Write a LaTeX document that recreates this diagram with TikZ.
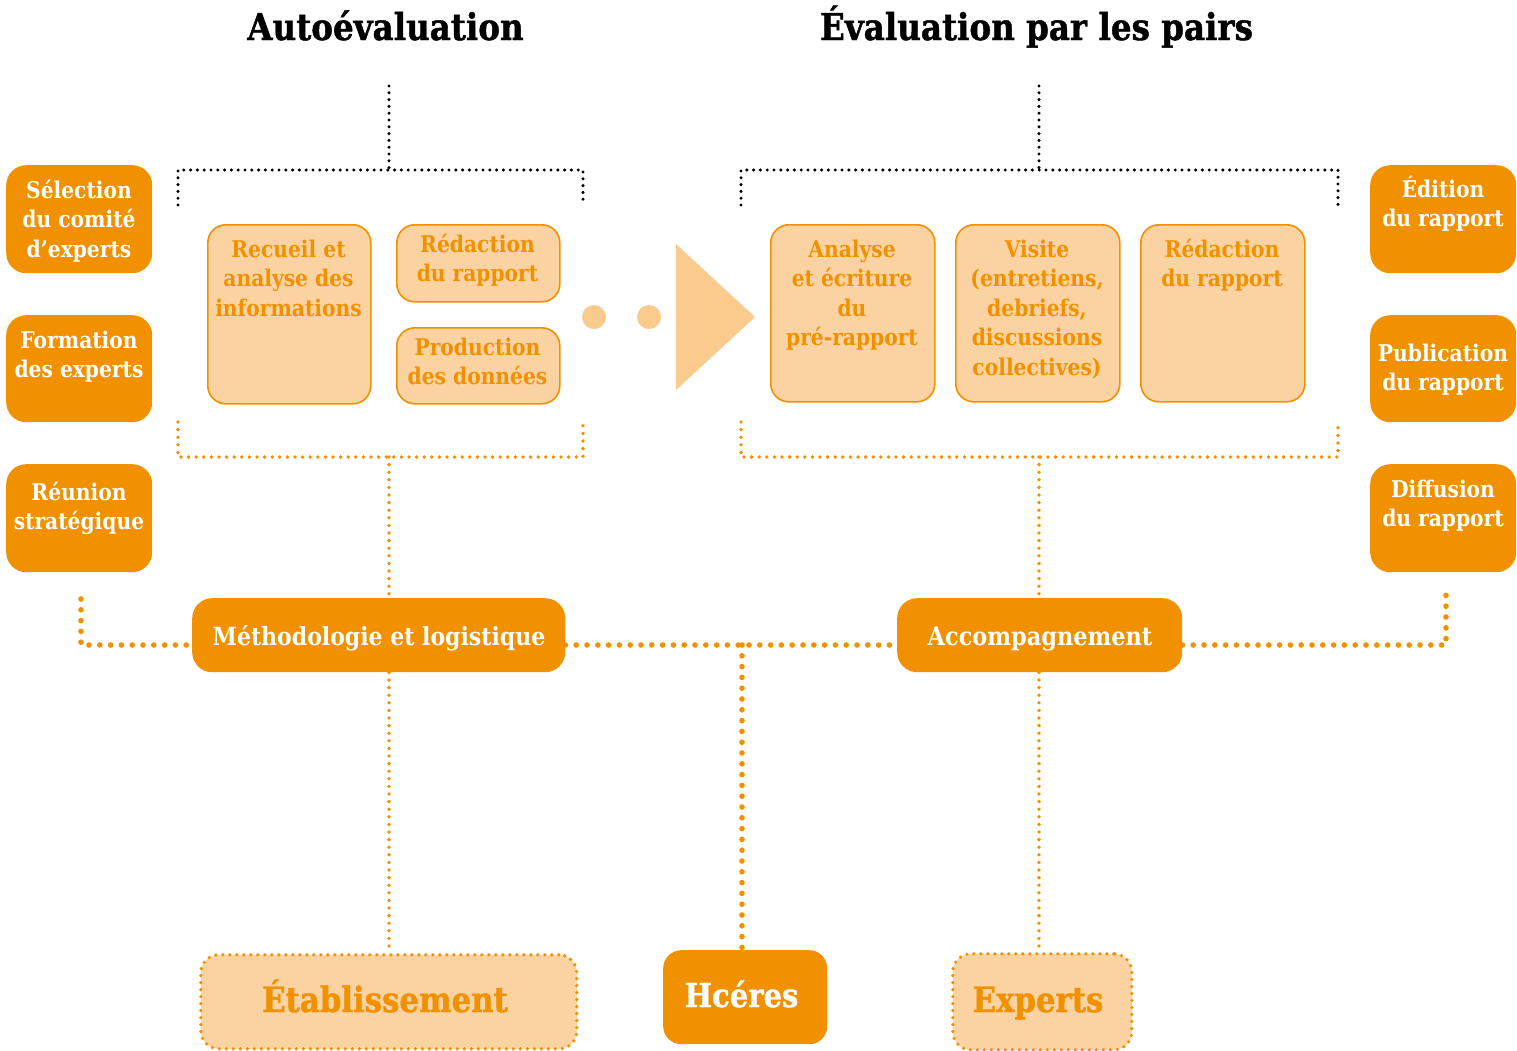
\documentclass[tikz,border=0pt]{standalone}
\usepackage{fontspec}
\setmainfont{DejaVu Serif}[FakeStretch=0.88]
\newfontfamily\heavyfont{DejaVu Serif}[FakeStretch=0.88, BoldFeatures={FakeBold=1.2}]
\definecolor{hcorange}{HTML}{F29100}
\definecolor{hclight}{HTML}{FBD3A2}
\definecolor{hctri}{HTML}{FBCB8D}
\newcommand\hcstrut{\rule{0pt}{22pt}}
\newcommand\boxfont{\bfseries\fontsize{23}{29.5}\selectfont}
\begin{document}
\begin{tikzpicture}[x=1pt,y=-1pt,
  darkbox/.style={fill=hcorange, draw=none, rounded corners=20pt, anchor=north west, inner sep=0pt},
  lightbox/.style={fill=hclight, draw=hcorange, line width=1.6pt, rounded corners=18pt, anchor=north west, inner sep=0pt},
  dotbox/.style={fill=hclight, draw=hcorange, line width=3.6pt, line cap=round, dash pattern=on 0pt off 7pt, rounded corners=18pt, anchor=north west, inner sep=0pt},
  boxtxt/.style={anchor=north, align=center, inner sep=0pt, font=\boxfont},
  wtxt/.style={boxtxt, text=white},
  otxt/.style={boxtxt, text=hcorange},
  title/.style={anchor=base, inner sep=0pt, font=\heavyfont\bfseries\fontsize{37}{42}\selectfont},
  blackdots/.style={draw=black, line width=3.4pt, line cap=round, dash pattern=on 0pt off 6.8pt},
  smalldots/.style={draw=hcorange, line width=3.8pt, line cap=round, dash pattern=on 0pt off 7.6pt},
  bigdots/.style={draw=hcorange, line width=5.6pt, line cap=round, dash pattern=on 0pt off 10.8pt},
]
\useasboundingbox (0,0) rectangle (1517,1050);

% titles
\node[title] (tauto) at (385.5,40) {Autoévaluation};
\node[title] (tpairs) at (1036.5,40) {Évaluation par les pairs};

% side boxes, left
\node[darkbox, minimum width=146pt, minimum height=108pt] (sel) at (6,165) {};
\node[darkbox, minimum width=146pt, minimum height=107pt] (form) at (6,315) {};
\node[darkbox, minimum width=146pt, minimum height=108pt] (reun) at (6,464) {};
\node[wtxt] (selT) at (79,176) {\hcstrut Sélection\\du comité\\d’experts};
\node[wtxt] (formT) at (79,326) {\hcstrut Formation\\des experts};
\node[wtxt] (reunT) at (79,478) {\hcstrut Réunion\\stratégique};

% side boxes, right
\node[darkbox, minimum width=146pt, minimum height=108pt] (edi) at (1370,165) {};
\node[darkbox, minimum width=146pt, minimum height=107pt] (pub) at (1370,315) {};
\node[darkbox, minimum width=146pt, minimum height=108pt] (dif) at (1370,464) {};
\node[wtxt] (ediT) at (1443,175) {\hcstrut Édition\\du rapport};
\node[wtxt] (pubT) at (1443,339) {\hcstrut Publication\\du rapport};
\node[wtxt] (difT) at (1443,475) {\hcstrut Diffusion\\du rapport};

% self-evaluation steps
\node[lightbox, minimum width=163pt, minimum height=179pt] (recu) at (207,224) {};
\node[lightbox, minimum width=163pt, minimum height=77pt] (redl) at (396,224) {};
\node[lightbox, minimum width=163pt, minimum height=76pt] (prod) at (396,327) {};
\node[otxt] (recuT) at (288.5,235) {\hcstrut Recueil et\\analyse des\\informations};
\node[otxt] (redlT) at (477.5,230) {\hcstrut Rédaction\\du rapport};
\node[otxt] (prodT) at (477.5,333) {\hcstrut Production\\des données};

% transition marks
\fill[hctri] (594,317) circle (12);
\fill[hctri] (649,317) circle (12);
\fill[hctri] (676,244) -- (755,317) -- (676,390) -- cycle;

% peer evaluation steps
\node[lightbox, minimum width=164pt, minimum height=177pt] (anal) at (770,224) {};
\node[lightbox, minimum width=164pt, minimum height=177pt] (visi) at (955,224) {};
\node[lightbox, minimum width=164pt, minimum height=177pt] (redr) at (1140,224) {};
\node[otxt] (analT) at (852,235) {\hcstrut Analyse\\et écriture\\du\\pré-rapport};
\node[otxt] (visiT) at (1037,235) {\hcstrut Visite\\(entretiens,\\debriefs,\\discussions\\collectives)};
\node[otxt] (redrT) at (1222,235) {\hcstrut Rédaction\\du rapport};

% support boxes
\node[darkbox, minimum width=373pt, minimum height=74pt] (meth) at (192,598) {};
\node[darkbox, minimum width=285pt, minimum height=74pt] (acc) at (897,598) {};
\node[anchor=base, inner sep=0pt, font=\bfseries\fontsize{25}{30}\selectfont, text=white] (methT) at (379,645) {Méthodologie et logistique};
\node[anchor=base, inner sep=0pt, font=\bfseries\fontsize{25.5}{30}\selectfont, text=white] (accT) at (1040,645) {Accompagnement};

% actors
\node[dotbox, minimum width=376pt, minimum height=94pt] (etab) at (199,953) {};
\node[darkbox, rounded corners=18pt, minimum width=164pt, minimum height=94pt] (hce) at (663,950) {};
\node[dotbox, minimum width=179pt, minimum height=96pt] (expe) at (951,952) {};
\node[anchor=base, inner sep=0pt, font=\heavyfont\bfseries\fontsize{35}{40}\selectfont, text=hcorange] (etabT) at (385,1012) {Établissement};
\node[anchor=base, inner sep=0pt, font=\heavyfont\bfseries\fontsize{33}{40}\selectfont, text=white] (hceT) at (741.5,1007) {Hcéres};
\node[anchor=base, inner sep=0pt, font=\heavyfont\bfseries\fontsize{35}{40}\selectfont, text=hcorange] (expeT) at (1038,1012) {Experts};

% black brackets under the titles
\coordinate (atop) at (389,86);
\coordinate (amid) at (389,170);
\coordinate (al) at (178,205);
\coordinate (ar) at (583,205);
\coordinate (ptop) at (1039,86);
\coordinate (pmid) at (1039,170);
\coordinate (pl) at (741,205);
\coordinate (pr) at (1338,205);
\draw[blackdots] (atop) -- (amid);
\draw[blackdots] (al) |- (amid) -| (ar);
\draw[blackdots] (ptop) -- (pmid);
\draw[blackdots] (pl) |- (pmid) -| (pr);

% orange brackets under the steps
\coordinate (bl) at (178,422);
\coordinate (br) at (583,422);
\coordinate (bmid) at (389,457);
\coordinate (ql) at (741,422);
\coordinate (qr) at (1338,422);
\coordinate (qmid) at (1039,457);
\draw[smalldots] (bl) |- (bmid) -| (br);
\draw[smalldots] (ql) |- (qmid) -| (qr);
\draw[smalldots] (bmid) -- (bmid |- meth.north);
\draw[smalldots] (qmid) -- (qmid |- acc.north);

% links to the actors
\draw[smalldots] (bmid |- meth.south) -- (bmid |- etab.north);
\draw[smalldots] (qmid |- acc.south) -- (qmid |- expe.north);

% support line
\coordinate (lend) at (81,599);
\coordinate (lcorner) at (81,645);
\coordinate (rend) at (1446,592);
\coordinate (rcorner) at (1446,645);
\coordinate (hjoin) at (742,645);
\draw[bigdots] (lend) -- (lcorner) -- (lcorner -| meth.west);
\draw[bigdots] (meth.east |- hjoin) -- (acc.west |- hjoin);
\draw[bigdots] (acc.east |- rcorner) -- (rcorner) -- (rend);
\draw[bigdots] (hjoin) -- (hjoin |- hce.north);
\end{tikzpicture}
\end{document}
